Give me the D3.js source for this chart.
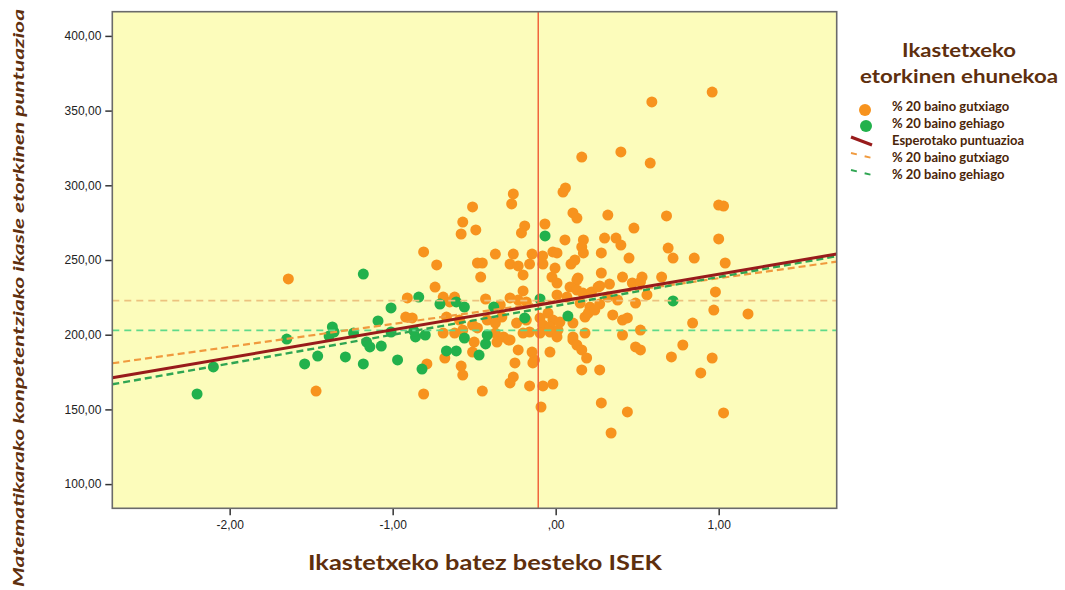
<!DOCTYPE html>
<html>
<head>
<meta charset="utf-8">
<script src="https://cdn.jsdelivr.net/npm/d3@7"></script>
<style>
  html, body { margin: 0; padding: 0; background: #ffffff; }
  svg { display: block; }
</style>
</head>
<body>
<svg id="chart" width="1065" height="590"></svg>
<script>
// ---------------- DATA ----------------
const xTicks = [-2, -1, 0, 1];
const yTicks = [100, 150, 200, 250, 300, 350, 400];

// % 20 baino gutxiago (orange)  [ISEK, puntuazioa]
const orangePoints = [
  [0.59,355.8],[0.96,362.4],[0.16,318.9],[0.40,322.3],[0.58,314.9],[0.045,295.5],[0.06,298.2],[-0.26,294.2],
  [-0.27,287.5],[-0.51,285.5],[-0.57,275.4],[-0.49,270.1],[-0.58,267.4],[-0.19,272.8],[-0.21,268.1],[-0.066,274.1],
  [0.106,281.5],[0.13,278.1],[0.32,280.1],[0.68,279.5],[0.48,271.4],[0.057,263.4],[0.17,263.4],[0.16,258.7],
  [0.17,254.7],[0.30,264.7],[0.37,264.7],[0.40,260.0],[0.28,254.7],[0.45,251.3],[0.69,258.0],[0.72,251.3],
  [0.85,251.3],[1.00,286.8],[1.03,286.1],[1.00,264.1],[1.04,248.0],[-0.81,255.4],[-0.73,246.7],[-0.37,254.0],
  [-0.26,254.0],[-0.145,254.0],[-0.08,252.7],[-0.017,255.4],[0.008,254.7],[-0.45,248.0],[-0.48,248.0],[-0.28,247.3],
  [-0.23,246.0],[-0.16,247.3],[-0.078,247.3],[-0.46,238.6],[-0.20,240.0],[-0.004,244.6],[0.094,247.3],[0.118,250.0],
  [0.28,241.3],[0.41,238.6],[0.53,238.6],[0.65,238.6],[0.137,238.0],[-1.64,237.3],[-1.47,162.3],[-0.74,231.9],
  [-0.91,224.6],[-0.88,211.2],[-0.79,180.4],[-0.81,160.3],[-0.58,179.0],[-0.57,173.0],[-0.45,162.3],[-0.023,238.6],
  [0.008,234.6],[0.13,236.6],[-0.20,229.3],[0.088,231.9],[0.13,229.9],[0.167,227.9],[0.22,228.6],[0.27,232.6],
  [0.33,233.9],[0.47,234.6],[0.52,235.3],[0.56,226.6],[0.98,228.6],[-0.69,225.2],[-0.65,221.9],[-0.62,225.2],
  [-0.43,223.9],[-0.34,219.9],[-0.28,224.6],[-0.23,223.2],[-0.18,221.9],[0.008,226.6],[0.069,225.2],[0.15,221.2],
  [0.21,218.5],[0.27,220.5],[0.32,225.2],[0.38,223.2],[0.49,221.2],[-0.92,211.8],[-0.67,211.8],[-0.59,209.8],
  [-0.51,206.5],[-0.48,204.5],[-0.42,209.8],[-0.37,207.8],[-0.33,211.8],[-0.24,207.8],[-0.18,209.8],[-0.096,211.2],
  [-0.047,214.5],[-0.017,209.8],[-0.078,206.5],[-0.035,205.2],[0.014,203.1],[0.026,208.5],[0.106,207.8],[0.18,211.8],
  [0.20,214.5],[0.24,216.5],[0.35,213.2],[0.41,209.8],[0.44,211.2],[0.84,207.8],[0.97,216.5],[1.18,213.9],
  [-0.69,201.1],[-0.62,201.1],[-0.57,203.1],[-0.37,201.1],[-0.32,198.5],[-0.28,196.5],[-0.20,201.1],[-0.16,201.8],
  [-0.096,201.1],[-0.035,201.8],[0.008,198.5],[0.106,198.5],[0.18,201.1],[0.41,199.8],[0.52,203.1],[-0.50,195.1],
  [-0.51,188.4],[-0.36,195.1],[-0.29,196.5],[-0.23,189.8],[-0.145,188.4],[-0.035,188.4],[0.106,196.5],[0.13,193.1],
  [0.16,189.8],[0.19,184.4],[0.49,191.8],[0.52,189.8],[0.71,185.1],[0.78,193.1],[0.96,184.4],[-0.68,184.4],
  [-0.13,183.1],[-0.25,181.1],[-0.14,181.1],[0.16,176.4],[0.27,176.4],[-0.26,171.7],[-0.28,167.7],[-0.16,165.7],
  [-0.078,165.7],[-0.017,167.0],[-0.09,151.6],[0.28,154.3],[0.44,148.3],[0.34,134.2],[0.89,174.4],[1.03,147.6],
  [0.26,231.9]
];

// % 20 baino gehiago (green)
const greenPoints = [
  [-2.20,160.3],[-2.10,178.4],[-1.65,197.1],[-1.54,180.4],[-1.46,185.7],[-1.37,205.2],[-1.36,201.8],[-1.39,199.1],
  [-1.29,185.1],[-1.24,201.1],[-1.18,180.4],[-1.18,240.6],[-1.01,217.9],[-1.09,209.2],[-0.84,225.2],[-0.71,220.5],
  [-0.61,221.9],[-0.56,218.5],[-1.01,201.8],[-0.86,198.5],[-0.80,199.8],[-0.87,202.5],[-1.16,195.1],[-1.14,191.8],
  [-1.07,192.4],[-0.97,183.1],[-0.82,177.0],[-0.67,189.1],[-0.61,189.1],[-0.56,197.8],[-0.47,186.4],[-0.43,193.8],
  [-0.42,199.8],[-0.38,218.5],[-0.19,211.2],[-0.096,223.9],[0.075,212.5],[-0.065,266.1],[0.72,222.6]
];

// Regression lines: total (Esperotako puntuazioa), orange group, green group
const fitNames = ["Esperotako puntuazioa", "% 20 baino gutxiago", "% 20 baino gehiago"];
const fitIntercepts = [221.9, 222.5, 219.3];
const fitSlopes = [18.63, 15.3, 19.3];

// Group means (horizontal reference lines) and mean ISEK (vertical line)
const groupMeanY = [222.8, 202.9];
const meanX = -0.107;

const legendLabels = ["% 20 baino gutxiago", "% 20 baino gehiago", "Esperotako puntuazioa", "% 20 baino gutxiago", "% 20 baino gehiago"];

// ---------------- DRAW ----------------
const C = {
  bg: "#fcfcbb", orange: "#f7931e", green: "#22b14c", red: "#981b1b",
  orangeDash: "#f09a3e", greenDash: "#2fa552", orangeMean: "#ecc27f", greenMean: "#5fd98a",
  vline: "#f0643c", brown: "#5e2f0e", frame: "#6a6a6a"
};
const svg = d3.select("#chart");
const L = 112.3, R = 836.7, T = 11.7, B = 508.3;
const x = d3.scaleLinear().domain([-2.72, 1.724]).range([L, R]);
const y = d3.scaleLinear().domain([83.8, 416.2]).range([B, T]);

svg.append("defs").append("clipPath").attr("id", "clip")
  .append("rect").attr("x", L).attr("y", T).attr("width", R - L).attr("height", B - T);

svg.append("rect").attr("x", L).attr("y", T).attr("width", R - L).attr("height", B - T)
  .attr("fill", C.bg);

const fmt = d => { let s = d.toFixed(2).replace(".", ","); if (s.startsWith("0,")) s = s.slice(1); return s; };

const gy = svg.append("g").attr("transform", `translate(${L},0)`)
  .call(d3.axisLeft(y).tickValues(yTicks).tickFormat(fmt).tickSize(7).tickPadding(4));
const gx = svg.append("g").attr("transform", `translate(0,${B})`)
  .call(d3.axisBottom(x).tickValues(xTicks).tickFormat(fmt).tickSize(7).tickPadding(5));
[gx, gy].forEach(g => {
  g.select(".domain").remove();
  g.selectAll(".tick line").attr("stroke", "#333").attr("stroke-width", 1.5);
  g.selectAll(".tick text").attr("fill", "#222").style("font-family", "'Liberation Sans', Arial, sans-serif").style("font-size", "12px");
});

const plot = svg.append("g").attr("clip-path", "url(#clip)");

plot.selectAll("circle.o").data(orangePoints).join("circle").attr("class", "o")
  .attr("cx", d => x(d[0])).attr("cy", d => y(d[1])).attr("r", 5.5).attr("fill", C.orange);
plot.selectAll("circle.g").data(greenPoints).join("circle").attr("class", "g")
  .attr("cx", d => x(d[0])).attr("cy", d => y(d[1])).attr("r", 5.5).attr("fill", C.green);

// group mean horizontal lines
plot.selectAll("line.mean").data(groupMeanY).join("line").attr("class", "mean")
  .attr("x1", L).attr("x2", R).attr("y1", d => y(d)).attr("y2", d => y(d))
  .attr("stroke", (d, i) => i === 0 ? C.orangeMean : C.greenMean)
  .attr("stroke-width", 1.6).attr("stroke-dasharray", "7,5");

// vertical mean line
plot.append("line").attr("x1", x(meanX)).attr("x2", x(meanX)).attr("y1", T).attr("y2", B)
  .attr("stroke", C.vline).attr("stroke-width", 1.5);

// regression lines
const xd = x.domain();
const fitStyle = [
  { c: C.red, w: 3, dash: null },
  { c: C.orangeDash, w: 2.2, dash: "7,4" },
  { c: C.greenDash, w: 2.4, dash: "7,4" }
];
const order = [1, 2, 0];
order.forEach(i => {
  const ln = plot.append("line")
    .attr("x1", x(xd[0])).attr("y1", y(fitIntercepts[i] + fitSlopes[i] * xd[0]))
    .attr("x2", x(xd[1])).attr("y2", y(fitIntercepts[i] + fitSlopes[i] * xd[1]))
    .attr("stroke", fitStyle[i].c).attr("stroke-width", fitStyle[i].w);
  if (fitStyle[i].dash) ln.attr("stroke-dasharray", fitStyle[i].dash);
});

// frame
svg.append("rect").attr("x", L).attr("y", T).attr("width", R - L).attr("height", B - T)
  .attr("fill", "none").attr("stroke", C.frame).attr("stroke-width", 1.6);

// axis titles
svg.append("text").attr("x", 485).attr("y", 570).attr("text-anchor", "middle")
  .attr("fill", C.brown).style("font-family", "Lato, 'Open Sans', sans-serif")
  .style("font-weight", "bold").style("font-size", "20px")
  .attr("textLength", 354).attr("lengthAdjust", "spacingAndGlyphs")
  .text("Ikastetxeko batez besteko ISEK");

svg.append("text").attr("transform", "translate(24,298) rotate(-90)").attr("text-anchor", "middle")
  .attr("fill", C.brown).style("font-family", "Lato, 'Open Sans', sans-serif")
  .style("font-weight", "bold").style("font-style", "italic").style("font-size", "16px")
  .attr("textLength", 578).attr("lengthAdjust", "spacingAndGlyphs")
  .text("Matematikarako konpetentziako ikasle etorkinen puntuazioa");

// legend
const lg = svg.append("g");
lg.append("text").attr("x", 959).attr("y", 57).attr("text-anchor", "middle")
  .attr("fill", C.brown).style("font-family", "Lato, sans-serif").style("font-weight", "bold").style("font-size", "19px")
  .attr("textLength", 114).attr("lengthAdjust", "spacingAndGlyphs").text("Ikastetxeko");
lg.append("text").attr("x", 959).attr("y", 83).attr("text-anchor", "middle")
  .attr("fill", C.brown).style("font-family", "Lato, sans-serif").style("font-weight", "bold").style("font-size", "19px")
  .attr("textLength", 198).attr("lengthAdjust", "spacingAndGlyphs").text("etorkinen ehunekoa");

const rowY = [106, 123, 140, 157, 174];
lg.selectAll("text.item").data(legendLabels).join("text").attr("class", "item")
  .attr("x", 892).attr("y", (d, i) => rowY[i] + 4.5)
  .attr("fill", "#4a2508").style("font-family", "Lato, sans-serif").style("font-weight", "bold").style("font-size", "13px")
  .text(d => d);

lg.append("circle").attr("cx", 865).attr("cy", 110).attr("r", 6).attr("fill", C.orange);
lg.append("circle").attr("cx", 866).attr("cy", 126).attr("r", 6).attr("fill", C.green);
lg.append("line").attr("x1", 851).attr("y1", 137).attr("x2", 872).attr("y2", 145)
  .attr("stroke", C.red).attr("stroke-width", 3);
lg.append("line").attr("x1", 851).attr("y1", 153).attr("x2", 872).attr("y2", 158)
  .attr("stroke", C.orangeDash).attr("stroke-width", 2).attr("stroke-dasharray", "6,8");
lg.append("line").attr("x1", 851).attr("y1", 170).attr("x2", 872).attr("y2", 175)
  .attr("stroke", C.greenDash).attr("stroke-width", 2).attr("stroke-dasharray", "6,8");
</script>
</body>
</html>
